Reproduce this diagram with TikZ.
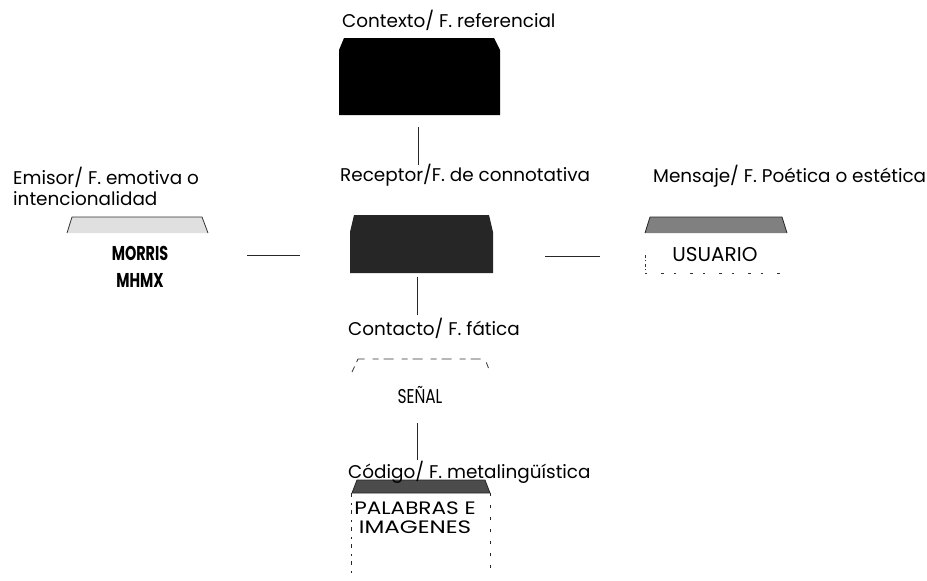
\documentclass[tikz,border=0pt]{standalone}
\usepackage{graphicx}
\usepackage{fontspec}
\setmainfont{Poppins}
\begin{document}
\begin{tikzpicture}[x=1pt,y=-1pt,
  lbl/.style={anchor=west,inner sep=0pt,font=\fontsize{18.4}{21}\selectfont},
  inbox/.style={inner sep=0pt,font=\fontsize{20}{27}\selectfont,align=center},
  conn/.style={draw=black!85,line width=1pt},
  slot/.style={inner sep=0pt,minimum width=1pt,minimum height=1pt}]
\useasboundingbox (0,0) rectangle (927,581);
% ---- box shapes ----
\fill[black] (339,115) -- (339,50) -- (344,38) -- (494,38) -- (500,50) -- (500,115) -- cycle;
\fill[black!85] (350,273) -- (350,232) -- (354,215) -- (489,215) -- (493,232) -- (493,273) -- cycle;
\filldraw[black!12,draw=black!80,line width=0.8pt] (67,233) -- (72,217) -- (202,217) -- (208,233);
\filldraw[black!50,draw=black!85,line width=0.8pt] (645,233) -- (650,217) -- (782,217) -- (787,233);
\draw[black!80,line width=0.8pt,dash pattern=on 3pt off 2pt on 1pt off 3pt] (645,255) -- (645,273);
\draw[black!80,line width=0.8pt,dash pattern=on 2pt off 14pt on 3pt off 10pt] (645,273) -- (787,273);
\draw[black!80,line width=0.8pt,dash pattern=on 6pt off 5pt on 10pt off 8pt] (352,372) -- (358,359) -- (485,359) -- (490,372);
\filldraw[black!70,draw=black!85,line width=0.8pt] (352,493) -- (357,480) -- (485,480) -- (490,493) -- cycle;
\draw[black!85,line width=0.8pt,dash pattern=on 4pt off 6pt on 2pt off 5pt] (351,493) -- (351,573);
\draw[black!85,line width=0.8pt,dash pattern=on 3pt off 9pt] (490,493) -- (490,573);
% ---- nodes ----
\node[slot] (ctx) at (419.5,115) {};
\node[lbl] (lctx) at (342,20) {Contexto/ F. referencial};
\node[lbl] (lrec) at (340,175) {Receptor/F. de connotativa};
\node[slot] (rec) at (421.5,244) {};
\node[lbl,align=left] (lemi) at (13,186.5) {Emisor/ F. emotiva o\\intencionalidad};
\node[inbox,font=\fontsize{20}{27}\selectfont\bfseries] (emi) at (140,266.5) {\scalebox{0.72}[1]{MORRIS}\\\scalebox{0.72}[1]{MHMX}};
\node[lbl] (lmen) at (653,176) {Mensaje/ F. Poética o estética};
\node[inbox] (men) at (715,255) {USUARIO};
\node[lbl] (lcon) at (348,328) {Contacto/ F. fática};
\node[inbox] (sen) at (420,395) {\scalebox{0.77}[1]{SEÑAL}};
\node[lbl] (lcod) at (348,472) {Código/ F. metalingüística};
\node[inbox,font=\fontsize{18}{19}\selectfont] (cod) at (415,517.5) {\scalebox{1.2}[1]{PALABRAS E}\\\scalebox{1.28}[1]{IMAGENES}};
% ---- connectors ----
\coordinate (ctxb) at (418,127);
\coordinate (lrect) at (418,165);
\draw[conn] (ctxb) -- (lrect);
\coordinate (recb) at (417,277);
\coordinate (lcont) at (417,315);
\draw[conn] (recb) -- (lcont);
\coordinate (senb) at (417,423);
\coordinate (lcodt) at (417,460);
\draw[conn] (senb) -- (lcodt);
\coordinate (emir) at (247,255);
\coordinate (recl) at (300,255);
\draw[conn] (emir) -- (recl);
\coordinate (recr) at (545,256);
\coordinate (menl) at (600,256);
\draw[conn] (recr) -- (menl);
\end{tikzpicture}
\end{document}
